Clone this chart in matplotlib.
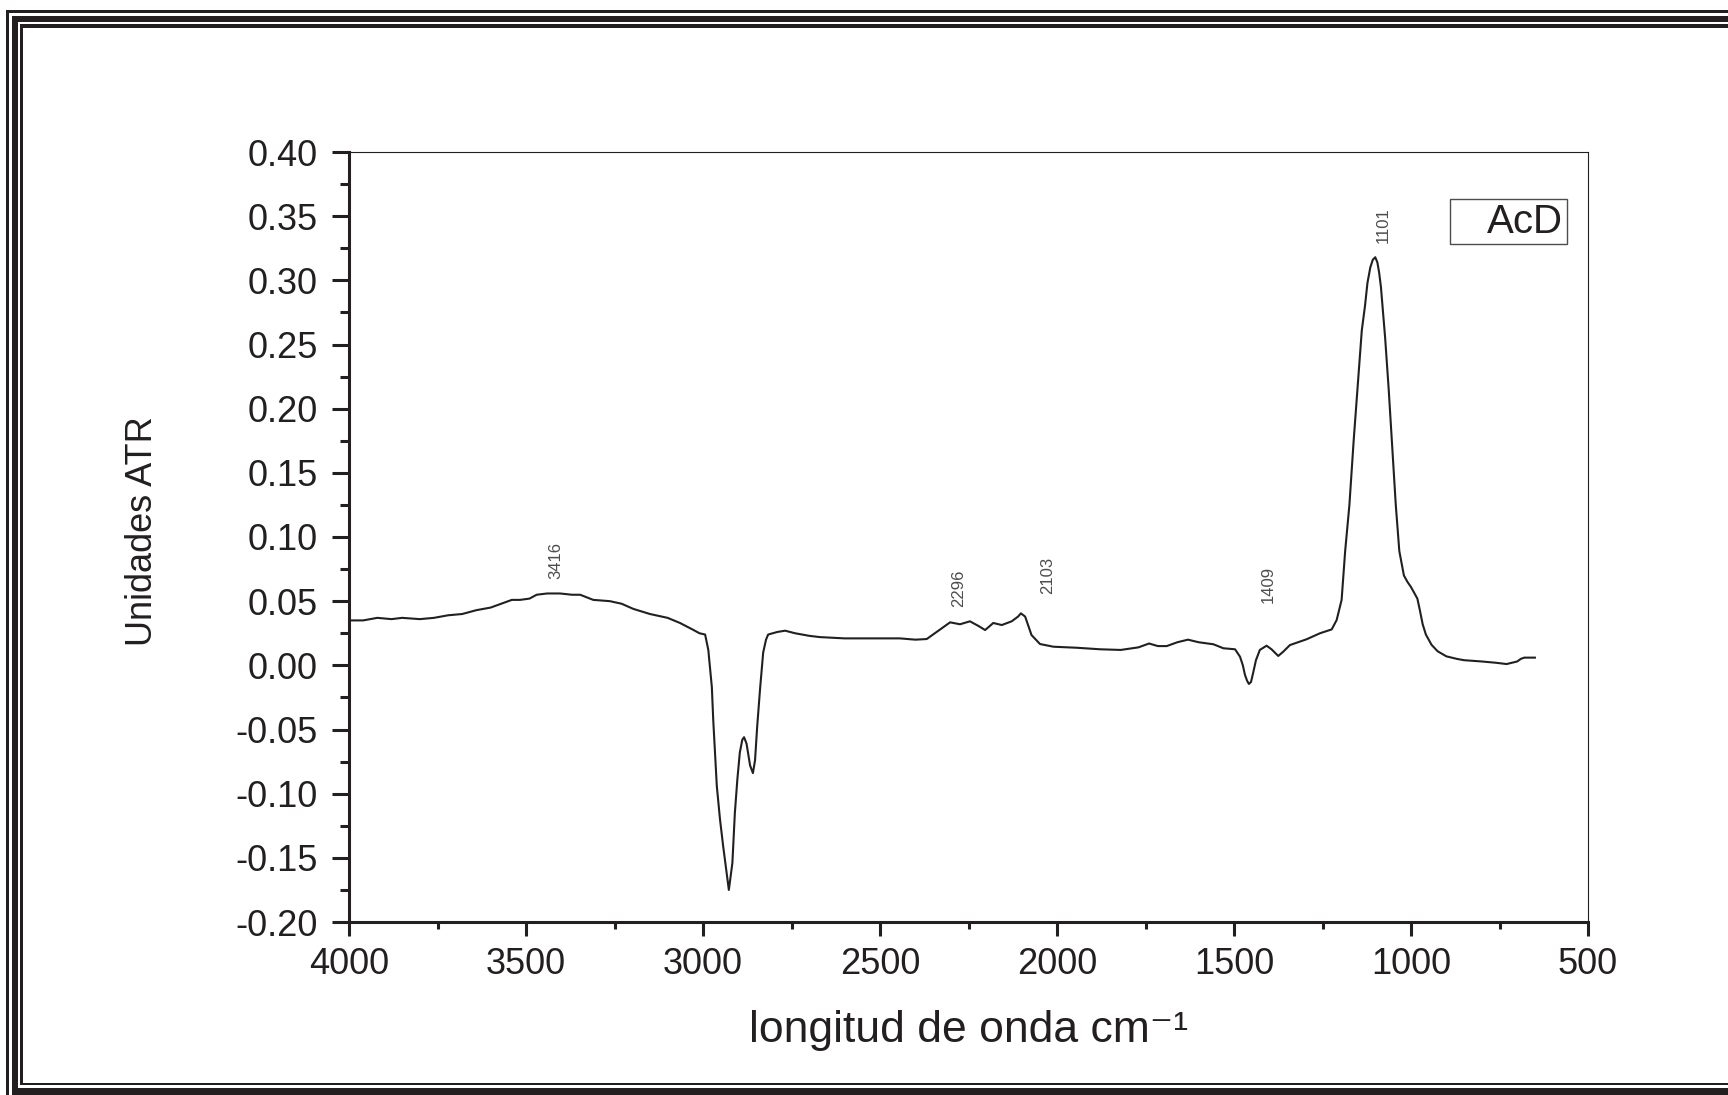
import matplotlib
matplotlib.use("Agg")
import matplotlib.pyplot as plt
from matplotlib.patches import Rectangle
from matplotlib.lines import Line2D
import numpy as np

# ATR spectrum of sample AcD (wavenumber in cm^-1, absorbance in ATR units)
wavenumber = [
    4000, 3960, 3920, 3880, 3850, 3800, 3760, 3720, 3680, 3640, 3600, 3570,
    3540, 3517, 3490, 3470, 3440, 3404, 3370, 3347, 3310, 3263, 3230, 3197,
    3150, 3100, 3065, 3030, 3010, 2994, 2985, 2975, 2971, 2961, 2952, 2943,
    2933, 2927, 2917, 2910, 2903, 2896, 2889, 2884, 2877, 2867, 2859, 2853,
    2847, 2839, 2830, 2822, 2816, 2790, 2768, 2740, 2700, 2670, 2600, 2500,
    2444, 2400, 2368, 2340, 2302, 2274, 2246, 2222, 2203, 2180, 2156, 2128,
    2110, 2102, 2090, 2072, 2048, 2010, 1944, 1878, 1820, 1770, 1740, 1715,
    1690, 1660, 1630, 1600, 1558, 1530, 1497, 1483, 1475, 1469, 1463, 1458,
    1452, 1446, 1438, 1427, 1408, 1394, 1375, 1361, 1342, 1295, 1257, 1224,
    1210, 1196, 1186, 1174, 1162, 1150, 1139, 1130, 1123, 1115, 1108, 1101,
    1095, 1090, 1085, 1079, 1073, 1063, 1054, 1043, 1033, 1020, 1010, 1000,
    990, 982, 975, 967, 958, 942, 925, 900, 870, 850, 800, 760,
    730, 700, 690, 680, 650,
]
absorbance = [
    0.035, 0.035, 0.037, 0.036, 0.037, 0.036, 0.037, 0.039, 0.040, 0.043, 0.045, 0.048,
    0.051, 0.051, 0.052, 0.055, 0.056, 0.056, 0.055, 0.055, 0.051, 0.050, 0.048, 0.044,
    0.040, 0.037, 0.033, 0.028, 0.025, 0.024, 0.012, -0.017, -0.043, -0.094, -0.120, -0.141,
    -0.162, -0.175, -0.154, -0.115, -0.089, -0.068, -0.058, -0.056, -0.061, -0.078, -0.084, -0.074,
    -0.048, -0.019, 0.010, 0.020, 0.024, 0.026, 0.027, 0.025, 0.023, 0.022, 0.021, 0.021,
    0.021, 0.020, 0.0205, 0.026, 0.0335, 0.032, 0.0343, 0.0307, 0.0275, 0.033, 0.0314, 0.0343,
    0.038, 0.0405, 0.038, 0.0236, 0.0166, 0.0145, 0.0137, 0.0125, 0.012, 0.014, 0.017, 0.015,
    0.015, 0.018, 0.020, 0.018, 0.0164, 0.0133, 0.0125, 0.0067, 0.000, -0.0075, -0.012, -0.0145,
    -0.013, -0.006, 0.004, 0.012, 0.0153, 0.0125, 0.0073, 0.0106, 0.0158, 0.0203, 0.025, 0.028,
    0.0353, 0.051, 0.089, 0.125, 0.175, 0.220, 0.261, 0.280, 0.298, 0.310, 0.316, 0.318,
    0.314, 0.306, 0.295, 0.275, 0.255, 0.215, 0.175, 0.125, 0.089, 0.070, 0.065, 0.061,
    0.056, 0.052, 0.043, 0.032, 0.024, 0.016, 0.011, 0.007, 0.005, 0.004, 0.003, 0.002,
    0.001, 0.003, 0.005, 0.006, 0.006,
]

# Labelled bands
peak_labels = [3416, 2296, 2103, 1409, 1101]
# label offsets (pixels) from the curve at each band
label_offsets = [(0, 14), (6, 16), (27, 20), (2, 43), (8, 14)]

series_name = "AcD"
x_ticks = [4000, 3500, 3000, 2500, 2000, 1500, 1000, 500]
y_ticks = [-0.20, -0.15, -0.10, -0.05, 0.00, 0.05, 0.10, 0.15, 0.20, 0.25, 0.30, 0.35, 0.40]

INK = "#231f20"
FONT = ["Liberation Sans", "DejaVu Sans"]
plt.rcParams["font.family"] = FONT

W, H = 1728, 1095
fig = plt.figure(figsize=(W / 100, H / 100), dpi=100, facecolor="white")


def px_rect(x0, y0, x1, y1, color):
    """Rectangle given in pixel coordinates measured from the top-left corner."""
    r = Rectangle((x0 / W, 1 - y1 / H), (x1 - x0) / W, (y1 - y0) / H,
                  transform=fig.transFigure, facecolor=color, edgecolor="none",
                  zorder=-10)
    fig.add_artist(r)


# Triple-line page border (right and bottom run past the page edge)
px_rect(6, 10, W + 20, H + 20, INK)
px_rect(9, 13, W + 20, H + 20, "white")
px_rect(12, 16, W + 20, H + 20, INK)
px_rect(18, 22, W + 20, 1088, "white")
px_rect(20, 24, W + 20, 1085, INK)
px_rect(23, 28, W + 20, 1083, "white")

ax = fig.add_axes([349 / W, 1 - 922 / H, (1588 - 349) / W, (922 - 152) / H])
ax.set_facecolor("white")

ax.plot(wavenumber, absorbance, color=INK, lw=1.5, solid_joinstyle="round")

ax.set_xlim(4000, 500)
ax.set_ylim(-0.20, 0.40)
ax.set_xticks(x_ticks)
ax.set_xticklabels([str(t) for t in x_ticks])
ax.set_xticks([3750, 3250, 2750, 2250, 1750, 1250, 750], minor=True)
ax.set_yticks(y_ticks)
ax.set_yticklabels([f"{t:.2f}" for t in y_ticks])
ax.set_yticks(np.arange(-0.175, 0.40, 0.05), minor=True)

for side in ("left", "bottom"):
    ax.spines[side].set_linewidth(2.2)
    ax.spines[side].set_color(INK)
for side in ("top", "right"):
    ax.spines[side].set_linewidth(0.8)
    ax.spines[side].set_color(INK)

ax.tick_params(axis="x", which="major", direction="out", length=10, width=2.2,
               color=INK, labelcolor=INK, labelsize=26, pad=8)
ax.tick_params(axis="x", which="minor", direction="out", length=5, width=2.2, color=INK)
ax.tick_params(axis="y", which="major", direction="out", length=12.5, width=2.2,
               color=INK, labelcolor=INK, labelsize=26, pad=10)
ax.tick_params(axis="y", which="minor", direction="out", length=6.5, width=2.2, color=INK)

ax.set_xlabel("longitud de onda cm\u207b\u00b9", fontsize=32, color=INK)
ax.xaxis.set_label_coords(0.5, -0.114)
ax.xaxis.label.set_va("top")
ax.set_ylabel("Unidades ATR", fontsize=26, color=INK, va="center")
ax.yaxis.set_label_coords(-0.167, 0.508)

# Band annotations
for wn, (dx, dy) in zip(peak_labels, label_offsets):
    yv = np.interp(wn, wavenumber[::-1], absorbance[::-1])
    ax.annotate(str(wn), xy=(wn, yv), xytext=(dx, dy), textcoords="offset pixels",
                rotation=90, ha="center", va="bottom", fontsize=12,
                color="#4d4d4d")

# Legend box
handle = Line2D([], [], color="none")
leg = ax.legend([handle], [series_name], loc="upper right",
                bbox_to_anchor=((1567 - 349) / 1239, 1 - (199 - 152) / 770),
                borderaxespad=0, frameon=True, fancybox=False, fontsize=29,
                handlelength=0.65, handletextpad=0.2, borderpad=0.09)
leg.get_frame().set_edgecolor(INK)
leg.get_frame().set_linewidth(1.0)
for t in leg.get_texts():
    t.set_color(INK)

fig.savefig("out.png", dpi=100, facecolor="white")
